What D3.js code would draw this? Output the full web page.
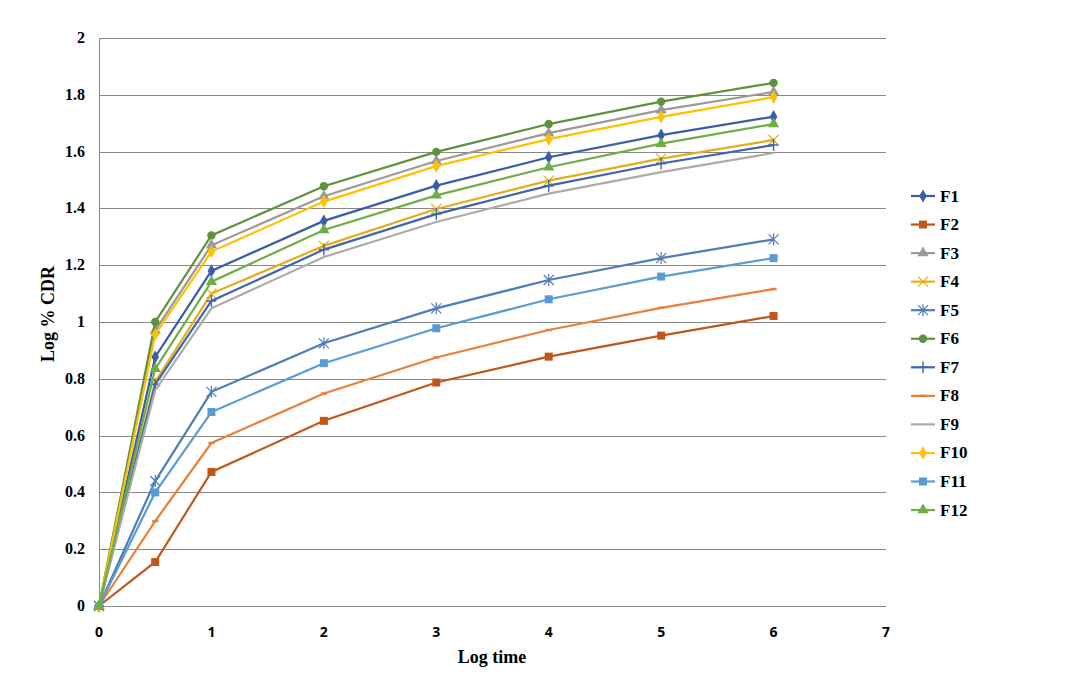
<!DOCTYPE html>
<html>
<head>
<meta charset="utf-8">
<script src="https://cdn.jsdelivr.net/npm/d3@7"></script>
<style>
  body { margin: 0; background: #fff; }
  svg { display: block; }
</style>
</head>
<body>
<div id="chart"></div>
<script>
// x values (log time)
var logTime = [0, 0.5, 1, 2, 3, 4, 5, 6];

// series values
var F1  = [0, 0.877, 1.180, 1.356, 1.480, 1.580, 1.658, 1.723];
var F2  = [0, 0.155, 0.472, 0.652, 0.787, 0.878, 0.952, 1.021];
var F3  = [0, 0.970, 1.270, 1.443, 1.567, 1.665, 1.746, 1.810];
var F4  = [0, 0.790, 1.100, 1.268, 1.398, 1.498, 1.575, 1.641];
var F5  = [0, 0.440, 0.754, 0.925, 1.048, 1.148, 1.225, 1.291];
var F6  = [0, 1.000, 1.305, 1.478, 1.599, 1.697, 1.776, 1.842];
var F7  = [0, 0.780, 1.074, 1.255, 1.380, 1.480, 1.558, 1.623];
var F8  = [0, 0.299, 0.574, 0.748, 0.875, 0.972, 1.050, 1.116];
var F9  = [0, 0.760, 1.048, 1.229, 1.352, 1.452, 1.528, 1.595];
var F10 = [0, 0.956, 1.248, 1.424, 1.549, 1.644, 1.722, 1.792];
var F11 = [0, 0.400, 0.683, 0.855, 0.978, 1.080, 1.160, 1.225];
var F12 = [0, 0.835, 1.142, 1.324, 1.446, 1.545, 1.628, 1.697];

var seriesNames = ["F1","F2","F3","F4","F5","F6","F7","F8","F9","F10","F11","F12"];
var seriesValues = [F1,F2,F3,F4,F5,F6,F7,F8,F9,F10,F11,F12];
var colors = ["#3a5da8","#c0571a","#9a9a9a","#e3ae1a","#4f7db8","#5e9140",
              "#3e66b0","#e8803a","#ababab","#ffc000","#5b9bd5","#70ad47"];
var markers = ["diamond","square","triangle","x","star","circle",
               "plus","dash","none","diamond","square","triangle"];

var xTicks = [0,1,2,3,4,5,6,7];
var yTicks = [0,0.2,0.4,0.6,0.8,1,1.2,1.4,1.6,1.8,2];

var width = 1070, height = 679;
var svg = d3.select("#chart").append("svg")
  .attr("width", width).attr("height", height);

var x = d3.scaleLinear().domain([0, 7]).range([99, 886]);
var y = d3.scaleLinear().domain([0, 2]).range([606, 38]);

// gridlines
svg.append("g").selectAll("line").data(yTicks).enter().append("line")
  .attr("x1", x(0)).attr("x2", x(7))
  .attr("y1", function(d) { return Math.round(y(d)) + 0.5; })
  .attr("y2", function(d) { return Math.round(y(d)) + 0.5; })
  .attr("stroke", "#898989").attr("stroke-width", 1);

// y axis line
svg.append("line").attr("x1", x(0) + 0.5).attr("x2", x(0) + 0.5)
  .attr("y1", y(2)).attr("y2", y(0))
  .attr("stroke", "#898989");

// y tick labels
svg.append("g").selectAll("text").data(yTicks).enter().append("text")
  .attr("x", 85).attr("y", function(d) { return y(d) + 5; })
  .attr("text-anchor", "end")
  .attr("font-family", "Liberation Serif").attr("font-weight", "bold")
  .attr("font-size", "16px").attr("fill", "#000")
  .text(function(d) { return d; });

// x tick labels
svg.append("g").selectAll("text").data(xTicks).enter().append("text")
  .attr("x", function(d) { return x(d); }).attr("y", 637)
  .attr("text-anchor", "middle")
  .attr("font-family", "Open Sans").attr("font-weight", "bold")
  .attr("font-size", "14px").attr("fill", "#000")
  .text(function(d) { return d; });

// axis titles
svg.append("text").attr("x", 492).attr("y", 663)
  .attr("text-anchor", "middle")
  .attr("font-family", "Liberation Serif").attr("font-weight", "bold")
  .attr("font-size", "18px").text("Log time");

svg.append("text")
  .attr("transform", "translate(54,314) rotate(-90)")
  .attr("text-anchor", "middle")
  .attr("font-family", "Liberation Serif").attr("font-weight", "bold")
  .attr("font-size", "18px").text("Log % CDR");

function drawMarker(g, type, cx, cy, color) {
  var s = 4;
  if (type == "diamond") {
    g.append("path").attr("d", d3.symbol().type(d3.symbolDiamond).size(50)())
      .attr("transform", "translate(" + cx + "," + cy + ")").attr("fill", color);
  } else if (type == "square") {
    g.append("rect").attr("x", cx - s).attr("y", cy - s)
      .attr("width", 2 * s).attr("height", 2 * s).attr("fill", color);
  } else if (type == "triangle") {
    g.append("path").attr("d", d3.symbol().type(d3.symbolTriangle).size(55)())
      .attr("transform", "translate(" + cx + "," + cy + ")").attr("fill", color);
  } else if (type == "circle") {
    g.append("circle").attr("cx", cx).attr("cy", cy).attr("r", 4.2).attr("fill", color);
  } else if (type == "x" || type == "star") {
    g.append("path")
      .attr("d", "M" + (cx - s - 1) + "," + (cy - s - 1) + "L" + (cx + s + 1) + "," + (cy + s + 1) +
                 "M" + (cx - s - 1) + "," + (cy + s + 1) + "L" + (cx + s + 1) + "," + (cy - s - 1) +
                 (type == "star" ? "M" + cx + "," + (cy - s - 2) + "L" + cx + "," + (cy + s + 2) : ""))
      .attr("stroke", color).attr("stroke-width", 1.2).attr("fill", "none");
  } else if (type == "plus") {
    g.append("path")
      .attr("d", "M" + (cx - s - 1) + "," + cy + "L" + (cx + s + 1) + "," + cy +
                 "M" + cx + "," + (cy - s - 2) + "L" + cx + "," + (cy + s + 2))
      .attr("stroke", color).attr("stroke-width", 1.4).attr("fill", "none");
  } else if (type == "dash") {
    g.append("path")
      .attr("d", "M" + (cx - 3) + "," + cy + "L" + (cx + 3) + "," + cy)
      .attr("stroke", color).attr("stroke-width", 2.5);
  }
}

var line = d3.line()
  .x(function(d, i) { return x(logTime[i]); })
  .y(function(d) { return y(d); });

seriesValues.forEach(function(vals, k) {
  var g = svg.append("g");
  g.append("path").datum(vals).attr("d", line)
    .attr("fill", "none").attr("stroke", colors[k]).attr("stroke-width", 2.2);
  vals.forEach(function(v, i) {
    drawMarker(g, markers[k], x(logTime[i]), y(v), colors[k]);
  });
});

// legend
var legend = svg.append("g");
seriesNames.forEach(function(name, k) {
  var ly = 196 + k * 28.55;
  legend.append("line").attr("x1", 911).attr("x2", 935)
    .attr("y1", ly).attr("y2", ly)
    .attr("stroke", colors[k]).attr("stroke-width", 2.2);
  drawMarker(legend, markers[k], 923, ly, colors[k]);
  legend.append("text").attr("x", 940).attr("y", ly + 5.5)
    .attr("font-family", "Liberation Serif").attr("font-weight", "bold")
    .attr("font-size", "17px").text(name);
});
</script>
</body>
</html>
